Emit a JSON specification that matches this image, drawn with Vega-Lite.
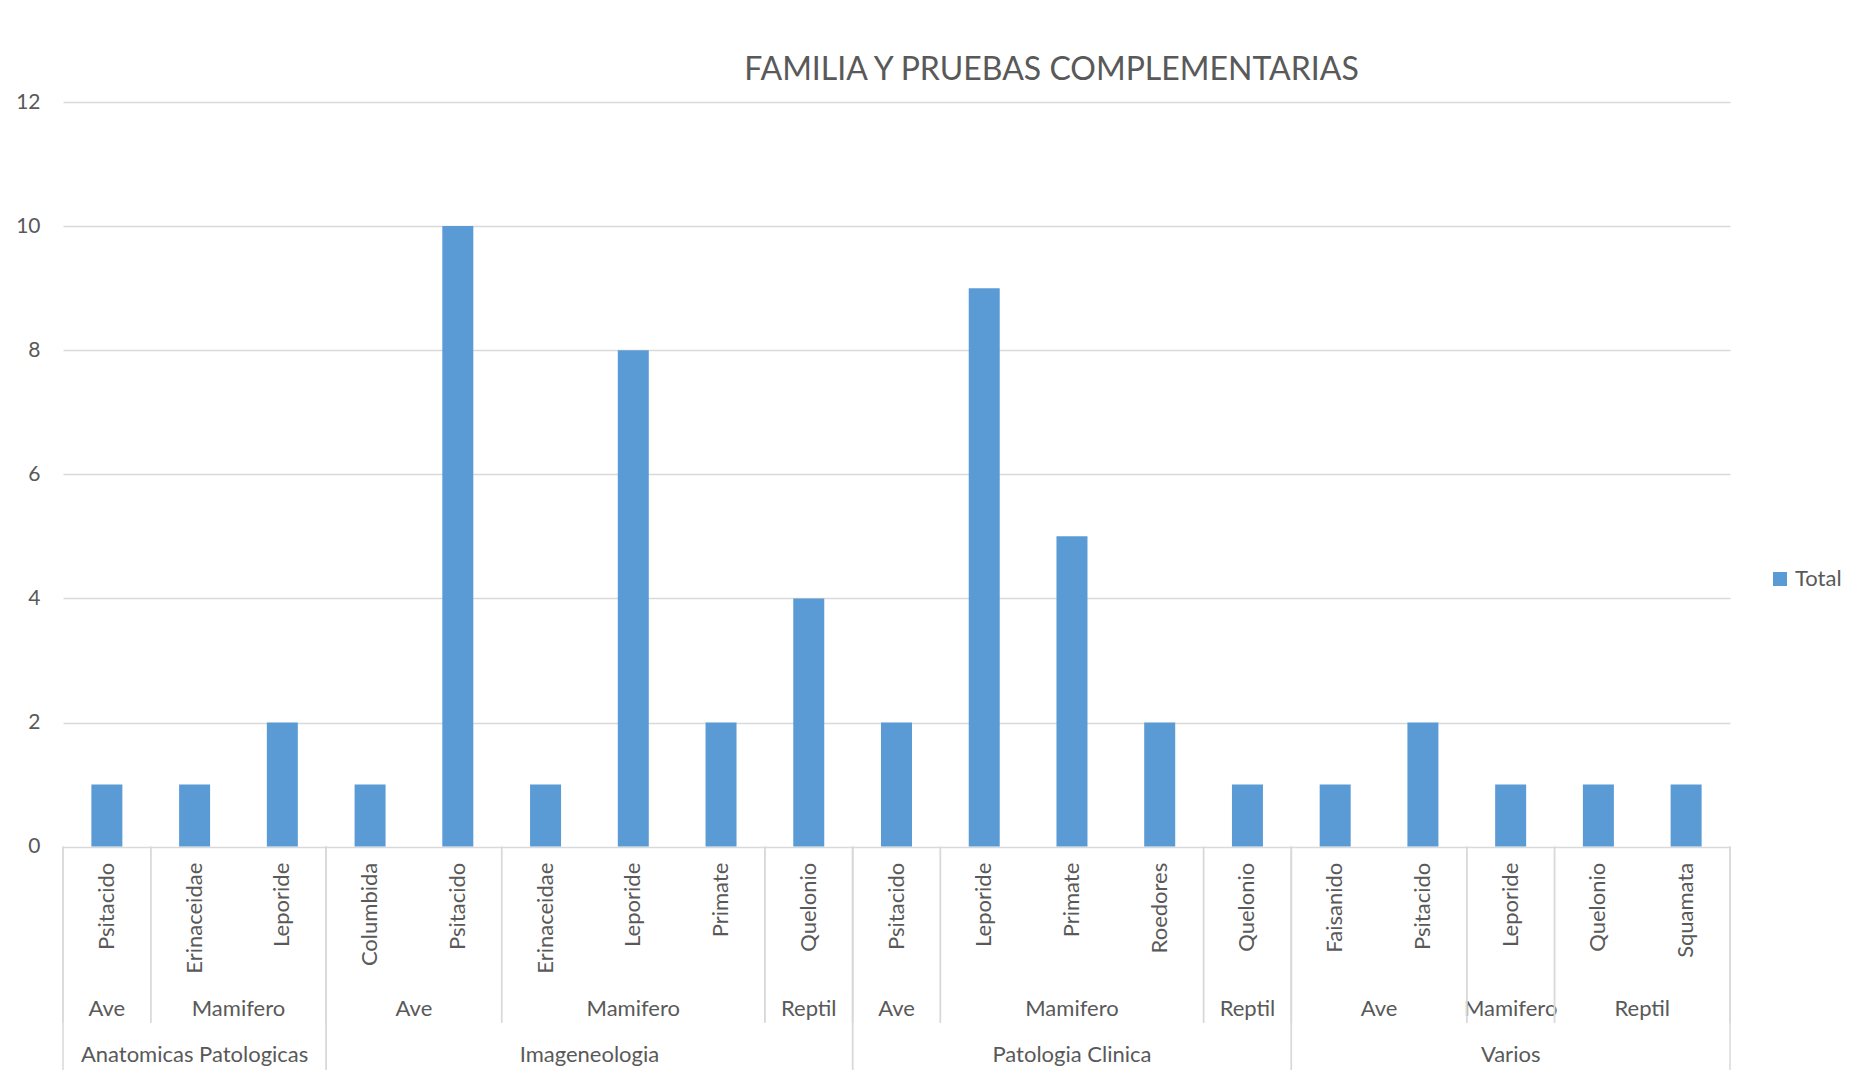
{
  "$schema": "https://vega.github.io/schema/vega-lite/v6.json",
  "autosize": {"type": "none"},
  "width": 1667,
  "height": 968,
  "padding": {"left": 63, "top": 102, "right": 135, "bottom": 15},
  "background": "white",
  "title": {
    "text": "FAMILIA Y PRUEBAS COMPLEMENTARIAS",
    "font": "Lato",
    "fontSize": 32,
    "fontWeight": "normal",
    "color": "#595959",
    "anchor": "middle",
    "frame": "group",
    "dx": 155,
    "dy": 43,
    "baseline": "alphabetic",
    "offset": 22
  },
  "config": {
    "view": {"stroke": null},
    "font": "Lato",
    "text": {"font": "Lato", "fontSize": 22, "color": "#595959"}
  },
  "data": {
    "values": [
      {"test": "Anatomicas Patologicas", "group": "Ave", "family": "Psitacido", "total": 1},
      {"test": "Anatomicas Patologicas", "group": "Mamifero", "family": "Erinaceidae", "total": 1},
      {"test": "Anatomicas Patologicas", "group": "Mamifero", "family": "Leporide", "total": 2},
      {"test": "Imageneologia", "group": "Ave", "family": "Columbida", "total": 1},
      {"test": "Imageneologia", "group": "Ave", "family": "Psitacido", "total": 10},
      {"test": "Imageneologia", "group": "Mamifero", "family": "Erinaceidae", "total": 1},
      {"test": "Imageneologia", "group": "Mamifero", "family": "Leporide", "total": 8},
      {"test": "Imageneologia", "group": "Mamifero", "family": "Primate", "total": 2},
      {"test": "Imageneologia", "group": "Reptil", "family": "Quelonio", "total": 4},
      {"test": "Patologia Clinica", "group": "Ave", "family": "Psitacido", "total": 2},
      {"test": "Patologia Clinica", "group": "Mamifero", "family": "Leporide", "total": 9},
      {"test": "Patologia Clinica", "group": "Mamifero", "family": "Primate", "total": 5},
      {"test": "Patologia Clinica", "group": "Mamifero", "family": "Roedores", "total": 2},
      {"test": "Patologia Clinica", "group": "Reptil", "family": "Quelonio", "total": 1},
      {"test": "Varios", "group": "Ave", "family": "Faisanido", "total": 1},
      {"test": "Varios", "group": "Ave", "family": "Psitacido", "total": 2},
      {"test": "Varios", "group": "Mamifero", "family": "Leporide", "total": 1},
      {"test": "Varios", "group": "Reptil", "family": "Quelonio", "total": 1},
      {"test": "Varios", "group": "Reptil", "family": "Squamata", "total": 1}
    ]
  },
  "transform": [
    {"window": [{"op": "row_number", "as": "idx"}]}
  ],
  "layer": [
    {
      "mark": {"type": "bar", "width": 31},
      "encoding": {
        "x": {"field": "idx", "type": "quantitative", "scale": {"domain": [0.5, 19.5], "nice": false, "zero": false, "padding": 0}, "axis": null},
        "y": {
          "field": "total", "type": "quantitative",
          "scale": {"domain": [-3.6, 12], "nice": false, "zero": false},
          "axis": {
            "values": [0, 2, 4, 6, 8, 10, 12],
            "format": "d",
            "grid": true, "gridColor": "#D9D9D9", "gridWidth": 1.5,
            "domain": false, "ticks": false, "title": null,
            "labelFont": "Lato", "labelFontSize": 21, "labelColor": "#595959", "labelPadding": 23
          }
        },
        "color": {
          "datum": "Total",
          "scale": {"range": ["#5B9BD5"]},
          "legend": {
            "title": null, "orient": "none", "legendX": 1706, "legendY": 466,
            "symbolType": "square", "symbolSize": 196, "symbolStrokeWidth": 0,
            "labelFont": "Lato", "labelFontSize": 22, "labelColor": "#595959", "labelOffset": 4, "padding": 0
          }
        }
      }
    },
    {
      "mark": {"type": "text", "angle": 270, "align": "right", "baseline": "middle"},
      "encoding": {
        "x": {"field": "idx", "type": "quantitative"},
        "y": {"datum": -0.26},
        "text": {"field": "family"}
      }
    },
    {
      "transform": [
        {"aggregate": [
          {"op": "mean", "field": "idx", "as": "mid"},
          {"op": "min", "field": "idx", "as": "lo"},
          {"op": "max", "field": "idx", "as": "hi"}
        ], "groupby": ["test", "group"]},
        {"calculate": "datum.lo - 0.5", "as": "left"},
        {"calculate": "datum.hi + 0.5", "as": "right"}
      ],
      "layer": [
        {
          "mark": {"type": "text", "baseline": "middle", "align": "center"},
          "encoding": {
            "x": {"field": "mid", "type": "quantitative"},
            "y": {"datum": -2.62},
            "text": {"field": "group"}
          }
        },
        {
          "mark": {"type": "rule", "color": "#D9D9D9", "strokeWidth": 1.5},
          "encoding": {
            "x": {"field": "left", "type": "quantitative"},
            "y": {"datum": 0},
            "y2": {"datum": -2.84}
          }
        },
        {
          "mark": {"type": "rule", "color": "#D9D9D9", "strokeWidth": 1.5},
          "encoding": {
            "x": {"field": "right", "type": "quantitative"},
            "y": {"datum": 0},
            "y2": {"datum": -2.84}
          }
        }
      ]
    },
    {
      "transform": [
        {"aggregate": [
          {"op": "mean", "field": "idx", "as": "mid"},
          {"op": "min", "field": "idx", "as": "lo"},
          {"op": "max", "field": "idx", "as": "hi"}
        ], "groupby": ["test"]},
        {"calculate": "datum.lo - 0.5", "as": "left"},
        {"calculate": "datum.hi + 0.5", "as": "right"}
      ],
      "layer": [
        {
          "mark": {"type": "text", "baseline": "middle", "align": "center"},
          "encoding": {
            "x": {"field": "mid", "type": "quantitative"},
            "y": {"datum": -3.36},
            "text": {"field": "test"}
          }
        },
        {
          "mark": {"type": "rule", "color": "#D9D9D9", "strokeWidth": 1.5},
          "encoding": {
            "x": {"field": "left", "type": "quantitative"},
            "y": {"datum": 0},
            "y2": {"datum": -3.6}
          }
        },
        {
          "mark": {"type": "rule", "color": "#D9D9D9", "strokeWidth": 1.5},
          "encoding": {
            "x": {"field": "right", "type": "quantitative"},
            "y": {"datum": 0},
            "y2": {"datum": -3.6}
          }
        }
      ]
    }
  ]
}
